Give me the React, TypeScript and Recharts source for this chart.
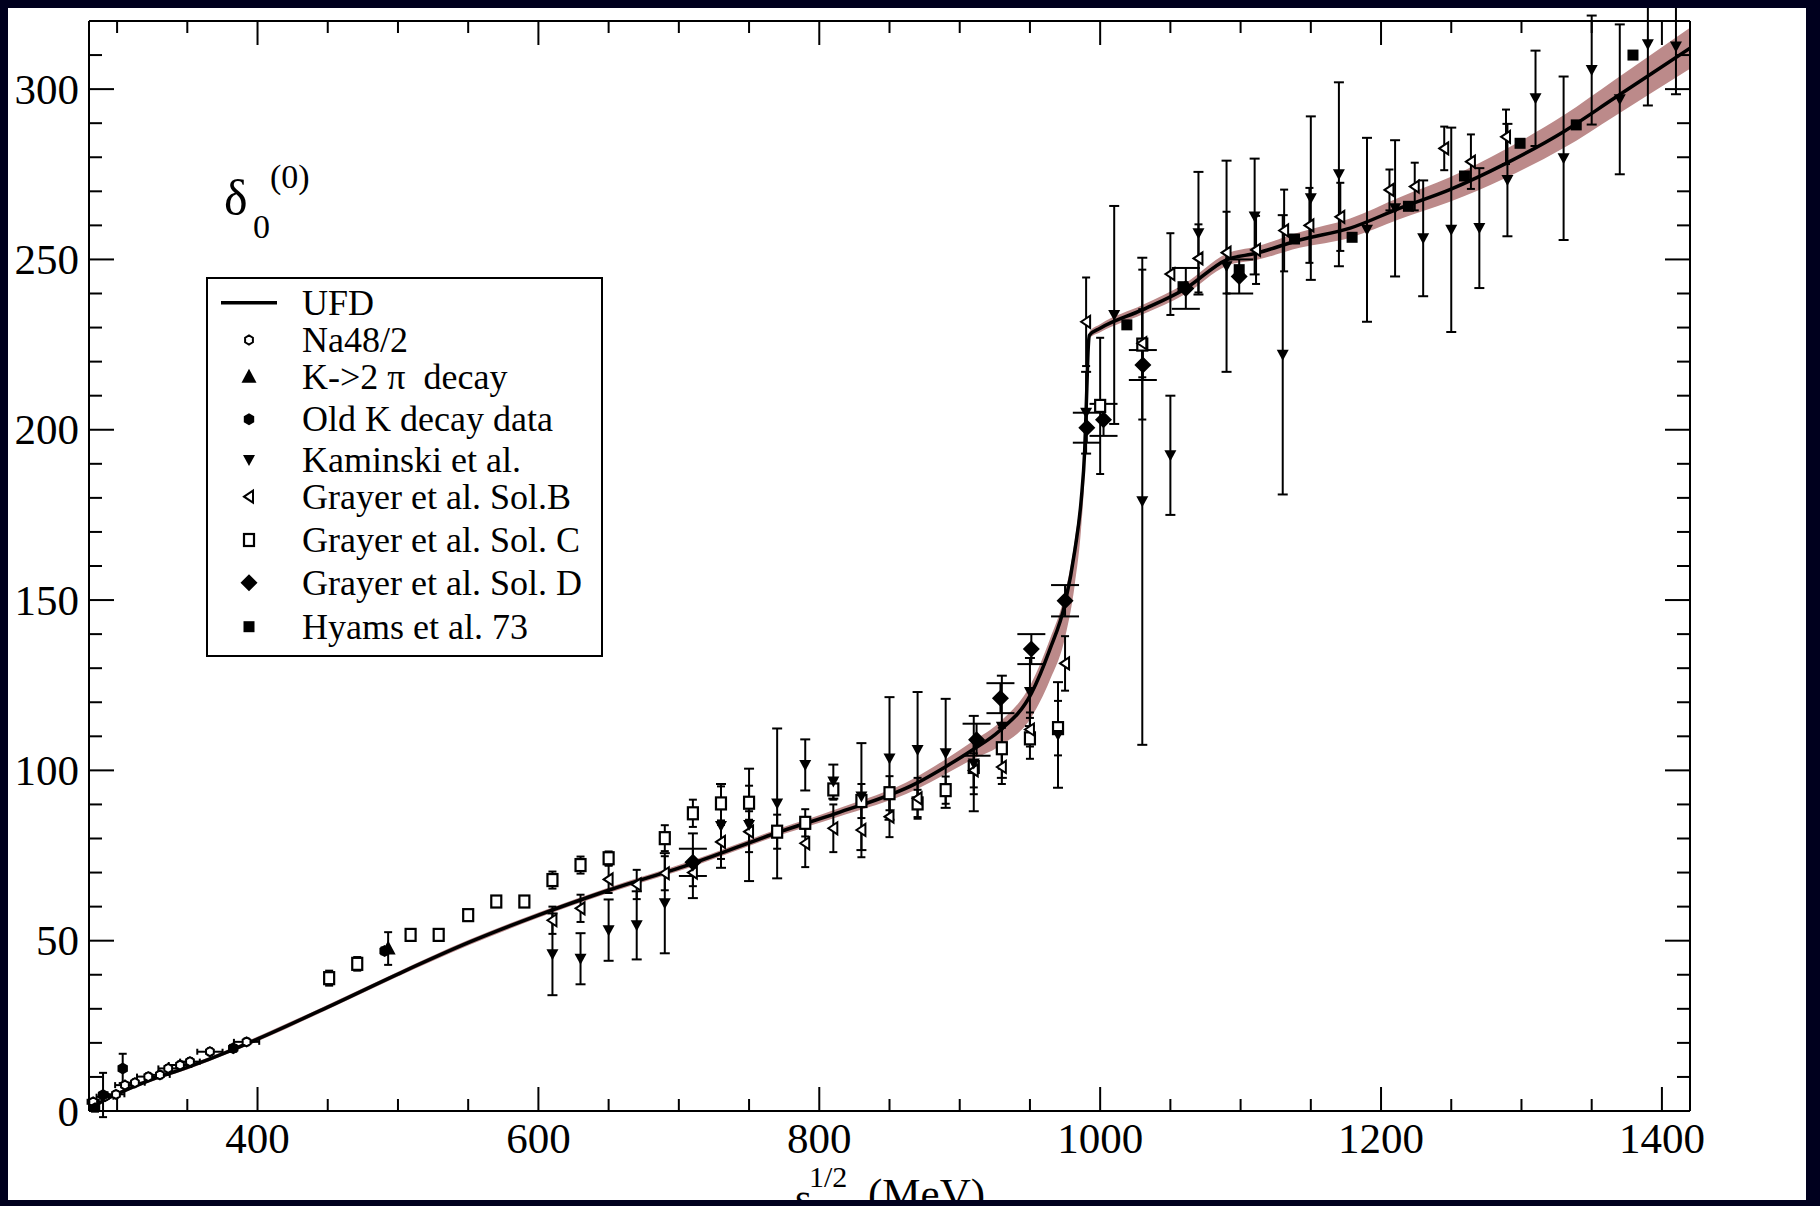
import React from "react";
import {
  ComposedChart,
  XAxis,
  YAxis,
  Line,
  Area,
  Scatter,
  ErrorBar,
  ReferenceLine,
  Legend,
} from "recharts";

const serif = "'Liberation Serif', 'Times New Roman', serif";

// plot frame in pixels (inside the white page)
const PLOT_W = 1601;
const PLOT_H = 1090;

// UFD central curve and its uncertainty band
const ufdE = [280, 290, 300, 320, 350, 380, 401, 450, 500, 550, 600, 650, 710, 772, 812, 869, 890, 909, 928, 951, 964, 975, 982, 986.5, 989, 990.5, 991.5, 992.4, 1000, 1030, 1061, 1090, 1111, 1142, 1178, 1213, 1249, 1289, 1330, 1366, 1420];
const ufdPhase = [0, 3, 5, 8.5, 12.8, 17.6, 21.3, 30.5, 40.2, 49.4, 57.5, 64.8, 72.7, 82, 87.4, 96.2, 101.1, 106, 111.5, 122.6, 135.3, 149, 164.7, 179.4, 194, 212, 224, 227.8, 229.8, 235.2, 241.5, 249.9, 251.8, 255.7, 259.2, 265, 270.5, 278.2, 287.5, 297.3, 312];
const ufdErrDown = [0.3, 0.4, 0.5, 0.5, 0.6, 0.6, 0.7, 0.7, 0.7, 0.8, 0.8, 0.8, 0.9, 1, 1.2, 1.8, 2.2, 2.8, 4.5, 7, 9, 10, 10, 8, 6, 3, 1.5, 1, 1.2, 1.4, 1.6, 1.8, 2, 2.3, 2.8, 3.2, 3.6, 4.2, 4.8, 5.3, 6];
const ufdErrUp = [0.3, 0.4, 0.5, 0.5, 0.6, 0.6, 0.7, 0.7, 0.7, 0.8, 0.8, 0.8, 0.9, 1, 1.2, 1.8, 2.2, 2.5, 2.5, 3, 3, 3, 3, 3, 2, 2, 1.5, 1, 1.2, 1.4, 1.6, 1.8, 2, 2.3, 2.8, 3.2, 3.6, 4.2, 4.8, 5.3, 6];

// Na48/2
const na48E = [283, 291.4, 299.2, 305.6, 312.7, 322.2, 330.5, 336.4, 344.8, 351.9, 366.1, 392.2];
const na48Phase = [2.7, 4.2, 4.9, 7.6, 8.3, 10.1, 10.6, 12.5, 13.5, 14.5, 17.4, 20.3];
const na48ErrE = [4, 6, 6, 7, 7, 8, 7, 7, 8, 7, 9, 9];
const na48Err = [0.8, 0.8, 0.9, 0.9, 1, 1, 1, 1, 1, 1, 1, 1];

// K -> 2 pi decay
const k2piE = [493];
const k2piPhase = [47.7];
const k2piErr = [4.8];

// old K decay data
const oldKE = [284.3, 290, 304, 382.7, 490.5];
const oldKPhase = [0.8, 4.7, 12.5, 18.4, 47];
const oldKErr = [1, 6.5, 4.3, 1, 1];

// Kaminski et al.
const kamE = [610, 630, 650, 670, 690, 710, 730, 750, 770, 790, 810, 830, 850, 870, 890, 910, 930, 950, 970, 990, 1010, 1030, 1050, 1070, 1090, 1110, 1130, 1150, 1170, 1190, 1210, 1230, 1250, 1270, 1290, 1310, 1330, 1350, 1370, 1390, 1410];
const kamPhase = [46, 44.7, 53.1, 54.5, 61, 72, 83.7, 84, 90.3, 101.6, 96.7, 92.3, 103.5, 106, 105, 102, 112.8, 123, 110.4, 205, 233.7, 179, 192.5, 257.7, 248, 262.6, 222, 268, 275, 258.7, 265, 256.2, 258.7, 259.2, 273.3, 297.3, 279.7, 305.6, 297, 313.2, 312.5];
const kamErr = [12, 7.5, 9, 10, 14.7, 9.5, 12.3, 16.5, 22, 7.5, 5, 15.7, 18, 17, 16, 14, 15, 10, 15.5, 12, 32, 71.5, 17.5, 18, 31, 17, 41, 24, 27, 27, 20, 17, 30, 17.6, 16.5, 14, 24, 16, 22, 18, 14];

// Grayer et al. solution B
const solBE = [610, 630, 650, 670, 690, 710, 730, 750, 790, 810, 830, 850, 870, 910, 930, 950, 975, 990, 1030, 1050, 1070, 1090, 1111, 1131, 1149, 1171, 1206, 1224, 1245, 1264, 1289];
const solBPhase = [56, 59.5, 68, 66.5, 69.8, 70, 79, 82, 78.6, 83, 82.5, 86.4, 91.8, 100, 101, 112, 131.4, 231.7, 225.4, 245.7, 250.3, 252, 252.8, 258.5, 260, 262.5, 270.4, 271.4, 282.6, 278.7, 286];
const solBErr = [4, 4, 4, 4.3, 5, 4, 5, 6, 7, 7, 8, 6, 6, 5, 5, 5, 8, 13, 10, 12, 10, 12, 10, 12, 11, 10, 6, 7, 6.4, 8, 8];

// Grayer et al. solution C
const solCE = [451, 471, 509, 529, 550, 570, 590, 610, 630, 650, 690, 710, 730, 750, 770, 790, 810, 830, 850, 870, 890, 910, 930, 950, 970, 1000, 1030];
const solCPhase = [39, 43.2, 51.7, 51.7, 57.5, 61.5, 61.5, 67.8, 72.2, 74.2, 80.1, 87.4, 90.3, 90.5, 82, 84.6, 94.4, 91, 93.3, 90.3, 94.2, 101, 106.5, 109.4, 112.4, 207, 225];
const solCErr = [2.2, 2, 1.5, 1.5, 1.5, 1.5, 1.5, 2.5, 2.5, 2, 3.8, 4, 5, 5, 5, 4, 3, 5, 5, 4, 4, 8, 6, 6, 8, 20, 22];

// Grayer et al. solution D
const solDE = [710, 912, 929, 951, 975, 990.5, 1002.4, 1030.4, 1061, 1099];
const solDPhase = [73, 109, 121.2, 135.6, 149.8, 200.6, 202.9, 219, 241.5, 245];
const solDErr = [4, 4.7, 4.4, 4.4, 4.6, 4.4, 4.7, 4.4, 6, 5];

// Hyams et al. 73
const hyamsE = [1019, 1059, 1099, 1138.4, 1179.4, 1219.5, 1259.4, 1299, 1339, 1379.4];
const hyamsPhase = [230.8, 242, 247, 256, 256.5, 265.6, 274.5, 284.1, 289.5, 310];

const xTicks = [300, 350, 400, 450, 500, 550, 600, 650, 700, 750, 800, 850, 900, 950, 1000, 1050, 1100, 1150, 1200, 1250, 1300, 1350, 1400];
const yTicks = [0, 10, 20, 30, 40, 50, 60, 70, 80, 90, 100, 110, 120, 130, 140, 150, 160, 170, 180, 190, 200, 210, 220, 230, 240, 250, 260, 270, 280, 290, 300, 310];

const legendNames = [
  "UFD",
  "Na48/2",
  "K->2 \u03c0  decay",
  "Old K decay data",
  "Kaminski et al.",
  "Grayer et al. Sol.B",
  "Grayer et al. Sol. C",
  "Grayer et al. Sol. D",
  "Hyams et al. 73",
];

type Pt = { x: number; y: number; ey: number; ex: number };

const toPoints = (e: number[], v: number[], ey?: number[], ex?: number[]): Pt[] =>
  e.map((x, i) => ({ x, y: v[i], ey: ey ? ey[i] : 0, ex: ex ? ex[i] : 0 }));

const ufdData = ufdE.map((x, i) => ({
  x,
  y: ufdPhase[i],
  band: [ufdPhase[i] - ufdErrDown[i], ufdPhase[i] + ufdErrUp[i]],
}));

const hex = (cx: number, cy: number, r: number) => {
  let d = "";
  for (let k = 0; k < 6; k++) {
    const a = (Math.PI / 3) * k + Math.PI / 6;
    d += `${k === 0 ? "M" : "L"}${cx + r * Math.cos(a)},${cy + r * Math.sin(a)}`;
  }
  return d + "Z";
};

// marker shapes
const OpenHex = ({ cx, cy }: any) => <path d={hex(cx, cy, 4.5)} fill="#fff" stroke="#000" strokeWidth={2} />;
const FilledHex = ({ cx, cy }: any) => <path d={hex(cx, cy, 6)} fill="#000" />;
const UpTri = ({ cx, cy }: any) => (
  <path d={`M${cx},${cy - 8} L${cx + 7.5},${cy + 6} L${cx - 7.5},${cy + 6}Z`} fill="#000" />
);
const DownTri = ({ cx, cy }: any) => (
  <path d={`M${cx - 6},${cy - 5} L${cx + 6},${cy - 5} L${cx},${cy + 6}Z`} fill="#000" />
);
const LeftTri = ({ cx, cy }: any) => (
  <path d={`M${cx - 5},${cy} L${cx + 4},${cy - 6} L${cx + 4},${cy + 6}Z`} fill="#fff" stroke="#000" strokeWidth={2} />
);
const OpenSq = ({ cx, cy }: any) => (
  <rect x={cx - 5} y={cy - 6} width={10} height={12} fill="#fff" stroke="#000" strokeWidth={2.2} />
);
const Diamond = ({ cx, cy }: any) => (
  <path d={`M${cx},${cy - 8.5} L${cx + 8.5},${cy} L${cx},${cy + 8.5} L${cx - 8.5},${cy}Z`} fill="#000" />
);
const FilledSq = ({ cx, cy }: any) => <rect x={cx - 5.5} y={cy - 5.5} width={11} height={11} fill="#000" />;

const legendShapes = [null, OpenHex, UpTri, FilledHex, DownTri, LeftTri, OpenSq, Diamond, FilledSq];

const XTick = ({ x, y, payload }: any) => {
  const v = payload.value;
  const major = v % 200 === 0;
  const len = major ? 24 : 12;
  return (
    <g>
      <line x1={x} y1={y} x2={x} y2={y - len} stroke="#000" strokeWidth={2} />
      <line x1={x} y1={y - PLOT_H} x2={x} y2={y - PLOT_H + len} stroke="#000" strokeWidth={2} />
      {major && (
        <text x={x} y={y + 27} textAnchor="middle" dominantBaseline="central" fontFamily={serif} fontSize={43} fill="#000">
          {v}
        </text>
      )}
    </g>
  );
};

const YTick = ({ x, y, payload }: any) => {
  const v = payload.value;
  const major = v % 50 === 0;
  const len = major ? 25 : 13;
  return (
    <g>
      <line x1={x} y1={y} x2={x + len} y2={y} stroke="#000" strokeWidth={2} />
      <line x1={x + PLOT_W} y1={y} x2={x + PLOT_W - len} y2={y} stroke="#000" strokeWidth={2} />
      {major && (
        <text x={x - 10} y={y} textAnchor="end" dominantBaseline="central" fontFamily={serif} fontSize={43} fill="#000">
          {v}
        </text>
      )}
    </g>
  );
};

const LegendBox = () => {
  const rowY = [25.7, 63, 99.7, 142.3, 183, 219.7, 263, 305.7, 349.7];
  const pad = 9;
  return (
    <svg width={397} height={380} style={{ display: "block" }}>
      <rect x={1} y={1} width={395} height={378} fill="#fff" stroke="#000" strokeWidth={2} />
      {legendNames.map((name, i) => {
        const Shape = legendShapes[i];
        return (
          <g key={name}>
            {Shape ? (
              <Shape cx={pad + 34} cy={rowY[i]} />
            ) : (
              <line x1={pad + 6} y1={rowY[i]} x2={pad + 62} y2={rowY[i]} stroke="#000" strokeWidth={3.5} />
            )}
            <text x={pad + 87} y={rowY[i]} dominantBaseline="central" fontFamily={serif} fontSize={36} fill="#000" style={{ whiteSpace: "pre" }}>
              {name}
            </text>
          </g>
        );
      })}
    </svg>
  );
};

export default function App() {
  return (
    <div style={{ position: "absolute", left: 0, top: 0, width: 1820, height: 1206, background: "#00001e" }}>
      <div
        style={{
          position: "absolute",
          left: 8,
          top: 8,
          width: 1798,
          height: 1192,
          background: "#fff",
          overflow: "hidden",
        }}
      >
        <ComposedChart width={1798} height={1260} margin={{ top: 13, right: 116, bottom: 97, left: 11 }}>
          <XAxis
            type="number"
            dataKey="x"
            domain={[280, 1420]}
            allowDataOverflow
            ticks={xTicks}
            interval={0}
            tick={<XTick />}
            tickSize={0}
            tickMargin={0}
            tickLine={false}
            axisLine={{ stroke: "#000", strokeWidth: 2 }}
            height={60}
          />
          <YAxis
            type="number"
            dataKey="y"
            domain={[0, 320]}
            allowDataOverflow
            ticks={yTicks}
            interval={0}
            tick={<YTick />}
            tickSize={0}
            tickMargin={0}
            tickLine={false}
            axisLine={{ stroke: "#000", strokeWidth: 2 }}
            width={70}
          />
          <ReferenceLine y={320} stroke="#000" strokeWidth={2} />
          <ReferenceLine x={1420} stroke="#000" strokeWidth={2} />

          <Area
            data={ufdData}
            dataKey="band"
            type="monotone"
            stroke="none"
            fill="#bc8a8a"
            fillOpacity={1}
            isAnimationActive={false}
          />
          <Line
            data={ufdData}
            dataKey="y"
            type="monotone"
            stroke="#000"
            strokeWidth={3.5}
            dot={false}
            isAnimationActive={false}
          />

          <Scatter data={toPoints(na48E, na48Phase, na48Err, na48ErrE)} dataKey="y" shape={OpenHex} isAnimationActive={false}>
            <ErrorBar dataKey="ex" direction="x" width={3} stroke="#000" strokeWidth={2} />
            <ErrorBar dataKey="ey" direction="y" width={3} stroke="#000" strokeWidth={2} />
          </Scatter>
          <Scatter data={toPoints(oldKE, oldKPhase, oldKErr)} dataKey="y" shape={FilledHex} isAnimationActive={false}>
            <ErrorBar dataKey="ey" direction="y" width={4} stroke="#000" strokeWidth={2} />
          </Scatter>
          <Scatter data={toPoints(k2piE, k2piPhase, k2piErr)} dataKey="y" shape={UpTri} isAnimationActive={false}>
            <ErrorBar dataKey="ey" direction="y" width={4} stroke="#000" strokeWidth={2} />
          </Scatter>
          <Scatter data={toPoints(solCE, solCPhase, solCErr)} dataKey="y" shape={OpenSq} isAnimationActive={false}>
            <ErrorBar dataKey="ey" direction="y" width={4} stroke="#000" strokeWidth={2} />
          </Scatter>
          <Scatter data={toPoints(solBE, solBPhase, solBErr)} dataKey="y" shape={LeftTri} isAnimationActive={false}>
            <ErrorBar dataKey="ey" direction="y" width={4} stroke="#000" strokeWidth={2} />
          </Scatter>
          <Scatter data={toPoints(kamE, kamPhase, kamErr)} dataKey="y" shape={DownTri} isAnimationActive={false}>
            <ErrorBar dataKey="ey" direction="y" width={5} stroke="#000" strokeWidth={2} />
          </Scatter>
          <Scatter data={toPoints(solDE, solDPhase, solDErr)} dataKey="y" shape={Diamond} isAnimationActive={false}>
            <ErrorBar dataKey="ey" direction="y" width={14} stroke="#000" strokeWidth={2} />
          </Scatter>
          <Scatter data={toPoints(hyamsE, hyamsPhase)} dataKey="y" shape={FilledSq} isAnimationActive={false} />

          <Legend
            layout="vertical"
            align="center"
            verticalAlign="middle"
            content={() => <LegendBox />}
            wrapperStyle={{ left: 198, top: 269, width: 397, height: 380 }}
          />
        </ComposedChart>

        {/* phase label and axis title */}
        <svg
          width={1798}
          height={1192}
          style={{ position: "absolute", left: 0, top: 0, pointerEvents: "none" }}
        >
          <g fontFamily={serif} fill="#000">
            <text x={216} y={207} fontSize={50}>δ</text>
            <text x={245} y={230} fontSize={34}>0</text>
            <text x={262} y={180} fontSize={34}>(0)</text>
            <text x={787} y={1204} fontSize={43}>s</text>
            <text x={801} y={1179} fontSize={30}>1/2</text>
            <text x={860} y={1200} fontSize={43}>(MeV)</text>
          </g>
        </svg>
      </div>
    </div>
  );
}
